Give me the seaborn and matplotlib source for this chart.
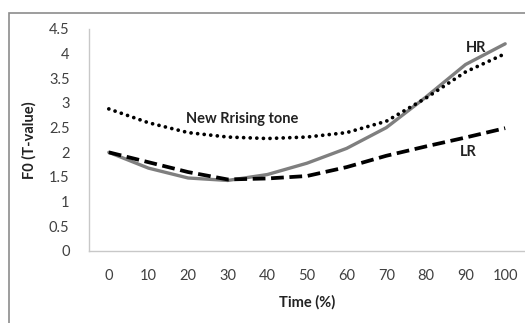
import pandas as pd
import seaborn as sns
import matplotlib.pyplot as plt
from matplotlib.patches import Rectangle

# Dados
tempo = [0, 10, 20, 30, 40, 50, 60, 70, 80, 90, 100]
hr = [2.0, 1.68, 1.48, 1.43, 1.55, 1.78, 2.08, 2.5, 3.12, 3.78, 4.2]
lr = [2.0, 1.8, 1.6, 1.45, 1.47, 1.52, 1.7, 1.93, 2.12, 2.3, 2.49]
novo = [2.88, 2.6, 2.4, 2.31, 2.28, 2.31, 2.4, 2.63, 3.1, 3.63, 4.0]
yticks = [0, 0.5, 1, 1.5, 2, 2.5, 3, 3.5, 4, 4.5]

df = pd.DataFrame({'tempo': tempo, 'HR': hr, 'LR': lr, 'novo': novo})

sns.set_theme(style='white')
plt.rcParams['font.family'] = ['Lato', 'DejaVu Sans']

fig = plt.figure(figsize=(5.25, 3.23), dpi=100)
ax = fig.add_axes([89/525, 1 - 251/323, 1 - 89/525, (251 - 29)/323])

# borda externa (estilo Excel)
fig.patches.append(Rectangle((9/525, -0.1), 1.2, 1 - 13/323 + 0.1, transform=fig.transFigure,
                             fill=False, edgecolor='#8c8c8c', linewidth=1.2))

sns.lineplot(data=df, x='tempo', y='HR', ax=ax, color='#7f7f7f', linewidth=2.4)
sns.lineplot(data=df, x='tempo', y='LR', ax=ax, color='black', linewidth=2.7,
             linestyle=(0, (3.4, 1.5)))
sns.lineplot(data=df, x='tempo', y='novo', ax=ax, color='black', linewidth=2.7,
             linestyle=(0, (0.01, 1.75)), dash_capstyle='round')

ax.set_xlim(-5, 105)
ax.set_ylim(0, 4.5)
ax.set_xticks(tempo)
ax.set_yticks(yticks)
ax.set_yticklabels([f'{v:g}' for v in yticks])
ax.tick_params(axis='both', length=0, labelsize=10.5, labelcolor='#404040')
ax.tick_params(axis='x', pad=13)
ax.tick_params(axis='y', pad=14)

for s in ['top', 'right']:
    ax.spines[s].set_visible(False)
for s in ['left', 'bottom']:
    ax.spines[s].set_color('#c8c8c8')
    ax.spines[s].set_linewidth(1)

ax.set_xlabel('Time (%)', fontsize=10.5, fontweight='bold', color='#222222', labelpad=9)
ax.set_ylabel('F0 (T-value)', fontsize=10.5, fontweight='bold', color='#222222', labelpad=9)

ax.text(90.2, 4.04, 'HR', fontsize=10.5, fontweight='bold', color='#222222')
ax.text(88.6, 1.92, 'LR', fontsize=10.5, fontweight='bold', color='#222222')
ax.text(19.5, 2.59, 'New Rrising tone', fontsize=10.5, fontweight='bold', color='#222222')

fig.savefig('out.png', dpi=100)
